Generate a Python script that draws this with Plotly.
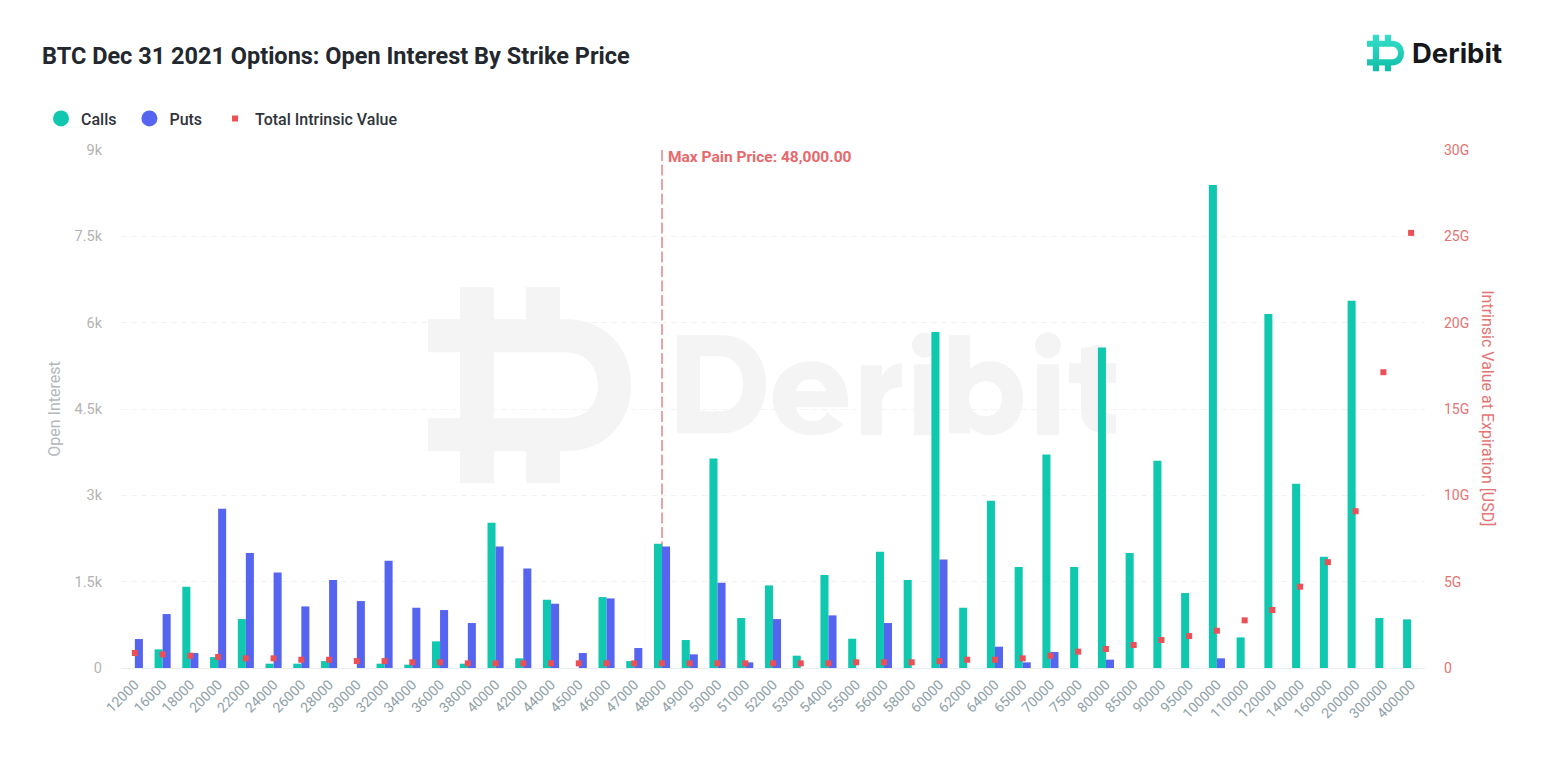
import re, base64
import plotly.graph_objects as go

strikes = ["12000","16000","18000","20000","22000","24000","26000","28000","30000","32000","34000","36000","38000","40000","42000","44000","45000","46000","47000","48000","49000","50000","51000","52000","53000","54000","55000","56000","58000","60000","62000","64000","65000","70000","75000","80000","85000","90000","95000","100000","110000","120000","140000","160000","200000","300000","400000"]
calls = [0,324,1412,190,850,75,75,120,0,75,58,463,75,2523,168,1186,0,1232,120,2158,486,3640,868,1435,214,1614,509,2020,1527,5840,1047,2905,1753,3710,1753,5570,2000,3600,1302,8390,532,6150,3200,1933,6380,868,845]
puts = [503,937,260,2766,2000,1660,1070,1527,1163,1863,1047,1007,781,2112,1730,1117,260,1209,347,2112,237,1481,98,850,0,914,0,781,0,1886,0,370,98,278,0,145,0,0,0,168,0,0,0,0,0,0,0]
intrinsic_g = [0.87,0.79,0.71,0.64,0.56,0.56,0.48,0.48,0.40,0.40,0.33,0.33,0.27,0.27,0.27,0.27,0.27,0.27,0.27,0.27,0.27,0.27,0.27,0.27,0.27,0.27,0.33,0.33,0.33,0.40,0.48,0.48,0.56,0.71,0.95,1.10,1.33,1.62,1.85,2.16,2.76,3.36,4.71,6.13,9.08,17.13,25.2]
oi_ticks = [0,1500,3000,4500,6000,7500,9000]
oi_labels = ["0","1.5k","3k","4.5k","6k","7.5k","9k"]
iv_ticks = [0,5,10,15,20,25,30]
iv_labels = ["0","5G","10G","15G","20G","25G","30G"]

W, H = 1551, 769
L, R, T, B = 121, 1425, 149.5, 668
TEAL, BLUE, RED, SALMON = "#10c7b0", "#5565ef", "#ec4f55", "#e57373"
WM = "#f4f4f4"

def to_paper(path):
    def f(m):
        x, y = float(m.group(1)), float(m.group(2))
        return f"{(x-L)/(R-L):.5f},{(B-y)/(B-T):.5f}"
    return re.sub(r"(-?[\d.]+),(-?[\d.]+)", f, path)

LOGO = ("M428,319 L460,319 L460,287 L494,287 L494,319 L526,319 L526,287 L560,287 L560,319 L566,319 "
        "C605,319 631,347 631,385 C631,423 605,451 566,451 L560,451 L560,483 L526,483 L526,451 L494,451 "
        "L494,483 L460,483 L460,451 L428,451 L428,418 L460,418 L460,352 L428,352 Z "
        "M494,352 L494,418 L566,418 C585,418 598,404 598,385 C598,366 585,352 566,352 Z")

def ell(cx, cy, rx, ry):
    k = 0.5523
    return (f"M{cx-rx},{cy} C{cx-rx},{cy-k*ry} {cx-k*rx},{cy-ry} {cx},{cy-ry} "
            f"C{cx+k*rx},{cy-ry} {cx+rx},{cy-k*ry} {cx+rx},{cy} "
            f"C{cx+rx},{cy+k*ry} {cx+k*rx},{cy+ry} {cx},{cy+ry} "
            f"C{cx-k*rx},{cy+ry} {cx-rx},{cy+k*ry} {cx-rx},{cy} Z")

LETTERS = [
    "M677,335 L721,335 C749,335 766,356 766,384 C766,412 749,433 721,433 L677,433 Z "
    "M700,356 L700,411 L720,411 C734,411 743,400 743,384 C743,367 734,356 720,356 Z",
    "M811,361 C834,361 848,378 848,400 L848,407 L796,407 C798,416 804,421 812,421 C819,421 824,418 827,412 L843,424 "
    "C836,432 826,435 812,435 C789,435 773,420 773,398 C773,376 789,361 811,361 Z "
    "M796,391 L826,391 C824,383 819,379 811,379 C803,379 798,383 796,391 Z",
    "M861,365 L882,365 L882,376 C886,368 893,363 902,363 L902,387 C889,387 882,393 882,405 L882,435 L861,435 Z",
    "M914,364 L935,364 L935,435 L914,435 Z", ell(924.5, 345, 12.5, 12.5),
    "M949,335 L970,335 L970,369 C975,364 982,361 990,361 C1009,361 1023,376 1023,398 C1023,420 1009,435 990,435 "
    "C982,435 975,432 970,427 L970,433 L949,433 Z "
    "M986,381 C976,381 969,388 969,398 C969,409 976,416 986,416 C995,416 1002,409 1002,398 C1002,388 995,381 986,381 Z",
    "M1037,364 L1059,364 L1059,435 L1037,435 Z", ell(1048, 345, 13, 13),
    "M1081,348 L1103,344 L1103,363 L1116,363 L1116,383 L1103,383 L1103,405 C1103,412 1107,414 1116,414 L1116,433 "
    "C1092,435 1081,428 1081,408 L1081,383 L1069,383 L1069,363 L1081,363 Z",
]

shapes = [dict(type="path", xref="paper", yref="paper", path=to_paper(LOGO), fillcolor=WM,
               line=dict(width=0), layer="below")]
shapes += [dict(type="path", xref="paper", yref="paper", path=to_paper(p), fillcolor=WM,
                line=dict(width=0), layer="below") for p in LETTERS]
pain_idx = strikes.index("48000")
shapes.append(dict(type="line", xref="x", yref="paper", x0=pain_idx, x1=pain_idx, y0=1, y1=0,
                   line=dict(color="#d9686c", width=1.2, dash="11px,3.5px"), layer="below"))

svg = ('<svg xmlns="http://www.w3.org/2000/svg" viewBox="428 287 203 196" preserveAspectRatio="none">'
       '<defs><linearGradient id="g" x1="0" y1="0" x2="0" y2="1"><stop offset="0" stop-color="#35e0cb"/>'
       '<stop offset="1" stop-color="#0fbda6"/></linearGradient></defs>'
       f'<path fill="url(#g)" fill-rule="evenodd" d="{LOGO}"/></svg>')
logo_uri = "data:image/svg+xml;base64," + base64.b64encode(svg.encode()).decode()

NB = "\u00a0\u00a0"
fig = go.Figure()
fig.add_trace(go.Bar(x=strikes, y=calls, name="Calls", marker=dict(color=TEAL, line=dict(width=0)), showlegend=False))
fig.add_trace(go.Bar(x=strikes, y=puts, name="Puts", marker=dict(color=BLUE, line=dict(width=0)), showlegend=False))
fig.add_trace(go.Scatter(x=[strikes[0]], y=[None], mode="markers", name="Calls"+NB,
                         marker=dict(color=TEAL, size=16, symbol="circle")))
fig.add_trace(go.Scatter(x=[strikes[0]], y=[None], mode="markers", name="Puts"+NB,
                         marker=dict(color=BLUE, size=16, symbol="circle")))
fig.add_trace(go.Scatter(x=strikes, y=intrinsic_g, mode="markers", name="Total Intrinsic Value", yaxis="y2",
                         marker=dict(color=RED, size=6, symbol="square")))

fig.update_layout(
    width=W, height=H, autosize=False,
    margin=dict(l=L, r=W-R, t=T, b=H-B, pad=0),
    paper_bgcolor="white", plot_bgcolor="rgba(0,0,0,0)",
    font=dict(family="Roboto", color="#2b2f36"),
    barmode="group", bargap=0.42, bargroupgap=0,
    title=dict(text="BTC Dec 31 2021 Options: Open Interest By Strike Price", x=42/W, xref="container", xanchor="left",
               y=1-56/H, yref="container", yanchor="middle", font=dict(family="Roboto", size=23.5, weight=700, color="#23272e")),
    legend=dict(orientation="h", x=(41-L)/(R-L), xref="paper", y=(B-118)/(B-T), yref="paper", yanchor="middle", xanchor="left",
                font=dict(size=16, weight=500, color="#2f343a"), itemsizing="trace", bgcolor="rgba(0,0,0,0)",
                itemclick=False, itemdoubleclick=False, traceorder="normal"),
    xaxis=dict(type="category", categoryorder="array", categoryarray=strikes, range=[-0.5, len(strikes)-0.5], tickangle=-45,
               showgrid=False, ticks="", showline=True, linecolor="#e8edf2", linewidth=1, zeroline=False, ticklabelstandoff=2,
               tickfont=dict(size=14, color="#8fa1a8")),
    yaxis=dict(range=[0, 9000], tickvals=oi_ticks, ticktext=oi_labels, showgrid=True, griddash="6px,4px", gridcolor="#f3f3f3",
               gridwidth=1, zeroline=False, tickfont=dict(size=14.5, color="#b3b3b3"), ticks="", ticklabelstandoff=18,
               title=dict(text="Open Interest", font=dict(size=16, color="#b3b8bb"), standoff=9)),
    yaxis2=dict(range=[0, 30], tickvals=iv_ticks, ticktext=iv_labels, overlaying="y", side="right", showgrid=False, zeroline=False,
                tickfont=dict(size=14, color=SALMON), ticks="", ticklabelstandoff=18),
    shapes=shapes,
    images=[dict(source=logo_uri, xref="paper", yref="paper", x=(1367-L)/(R-L), y=(B-34)/(B-T), sizex=37/(R-L), sizey=37/(B-T),
                 xanchor="left", yanchor="top", sizing="stretch", layer="above")],
    annotations=[
        dict(text="Max Pain Price: 48,000.00", xref="paper", yref="paper", x=(666-L)/(R-L), y=(B-157)/(B-T), xanchor="left", yanchor="middle",
             showarrow=False, font=dict(size=15.5, weight=700, color="#e8686c")),
        dict(text="Deribit", xref="paper", yref="paper", x=(1410-L)/(R-L), y=(B-52)/(B-T), xanchor="left", yanchor="middle",
             showarrow=False, font=dict(family="Inter", size=27.5, weight=700, color="#16181c")),
        dict(text="Intrinsic Value at Expiration [USD]", xref="paper", yref="paper", x=(1488-L)/(R-L), y=(B-408)/(B-T), xanchor="center", yanchor="middle",
             textangle=90, showarrow=False, font=dict(size=16, color=SALMON)),
    ],
)
fig.write_html("out.html", config=dict(displayModeBar=False),
               post_script="document.body.style.margin='0';document.documentElement.style.overflow='hidden';")
